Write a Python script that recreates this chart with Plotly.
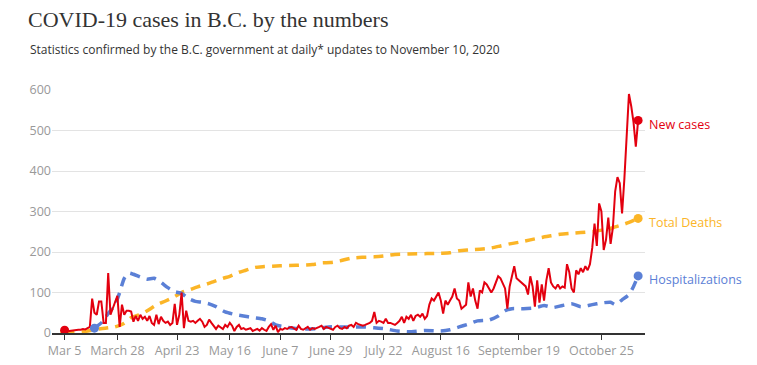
import pandas as pd
import plotly.graph_objects as go

# ---------------- data ----------------
start_date = "2020-03-05"
new_cases = [
    7, 2, 5, 6, 6, 7, 8, 8, 10, 9,
    12, 15, 85, 50, 45, 78, 78, 25, 25, 148,
    45, 60, 72, 92, 15, 70, 45, 55, 55, 53,
    28, 42, 30, 45, 35, 40, 30, 42, 25, 20,
    45, 22, 40, 30, 25, 28, 20, 25, 72, 20,
    45, 100, 12, 55, 30, 28, 30, 25, 30, 35,
    28, 15, 20, 33, 25, 18, 10, 18, 15, 10,
    20, 15, 25, 18, 5, 15, 20, 10, 12, 8,
    10, 12, 5, 8, 10, 6, 12, 8, 5, 15,
    22, 8, 18, 2, 10, 8, 12, 10, 14, 15,
    12, 8, 18, 10, 8, 12, 15, 8, 12, 10,
    12, 15, 18, 10, 15, 12, 10, 8, 15, 18,
    12, 10, 15, 12, 18, 20, 15, 25, 22, 20,
    18, 20, 22, 25, 30, 52, 25, 30, 28, 25,
    35, 25, 25, 22, 20, 25, 30, 40, 25, 40,
    35, 45, 30, 42, 45, 40, 48, 35, 42, 70,
    85, 80, 90, 100, 80, 48, 80, 70, 80, 90,
    110, 85, 80, 60, 65, 70, 125, 90, 110, 80,
    60, 105, 100, 125, 120, 110, 100, 110, 125, 140,
    135, 120, 110, 60, 115, 140, 165, 135, 130, 125,
    120, 115, 95, 140, 115, 65, 130, 75, 120, 80,
    130, 160, 125, 115, 110, 120, 110, 115, 112, 170,
    150, 110, 100, 155, 145, 160, 150, 165, 155, 170,
    210, 270, 215, 320, 300, 205, 230, 285, 220, 260,
    350, 385, 370, 295, 380, 500, 590, 560, 520, 460,
    525,
]
case_dates = pd.date_range(start_date, periods=len(new_cases), freq="D")

death_dates = [
    "2020-03-05", "2020-03-09", "2020-03-13", "2020-03-17", "2020-03-20", "2020-03-24",
    "2020-03-27", "2020-03-31", "2020-04-03", "2020-04-07", "2020-04-10", "2020-04-14",
    "2020-04-18", "2020-04-22", "2020-04-25", "2020-04-29", "2020-05-02", "2020-05-06",
    "2020-05-09", "2020-05-13", "2020-05-16", "2020-05-20", "2020-05-23", "2020-05-27",
    "2020-05-31", "2020-06-07", "2020-06-14", "2020-06-21", "2020-06-25", "2020-06-29",
    "2020-07-03", "2020-07-08", "2020-07-13", "2020-07-18", "2020-07-22", "2020-07-27",
    "2020-08-02", "2020-08-10", "2020-08-16", "2020-08-20", "2020-08-24", "2020-08-28",
    "2020-09-02", "2020-09-07", "2020-09-11", "2020-09-15", "2020-09-19", "2020-09-24",
    "2020-09-29", "2020-10-03", "2020-10-07", "2020-10-11", "2020-10-16", "2020-10-22",
    "2020-10-25", "2020-10-28", "2020-10-31", "2020-11-03", "2020-11-06", "2020-11-10",
]
total_deaths = [
    0, 1, 3, 7, 10, 13,
    15, 24, 38, 46, 55, 69,
    79, 90, 100, 108, 114, 121,
    127, 135, 140, 150, 155, 162,
    164, 166, 167, 169, 173, 174,
    178, 185, 187, 188, 190, 194,
    195, 196, 197, 198, 203, 205,
    207, 210, 215, 220, 224, 230,
    236, 240, 244, 246, 248, 251,
    254, 256, 262, 267, 273, 283,
]

hosp_dates = [
    "2020-03-18", "2020-03-21", "2020-03-24", "2020-03-27", "2020-03-29", "2020-03-31",
    "2020-04-02", "2020-04-04", "2020-04-07", "2020-04-10", "2020-04-13", "2020-04-16",
    "2020-04-19", "2020-04-22", "2020-04-25", "2020-04-28", "2020-05-01", "2020-05-04",
    "2020-05-07", "2020-05-10", "2020-05-14", "2020-05-18", "2020-05-22", "2020-05-26",
    "2020-05-30", "2020-06-02", "2020-06-05", "2020-06-09", "2020-06-13", "2020-06-18",
    "2020-06-23", "2020-06-28", "2020-07-03", "2020-07-08", "2020-07-13", "2020-07-18",
    "2020-07-23", "2020-07-28", "2020-08-02", "2020-08-09", "2020-08-16", "2020-08-20",
    "2020-08-24", "2020-08-28", "2020-09-01", "2020-09-06", "2020-09-10", "2020-09-13",
    "2020-09-16", "2020-09-21", "2020-09-26", "2020-09-30", "2020-10-04", "2020-10-08",
    "2020-10-12", "2020-10-16", "2020-10-21", "2020-10-25", "2020-10-29", "2020-10-31",
    "2020-11-03", "2020-11-06", "2020-11-08", "2020-11-10",
]
hospitalizations = [
    12, 25, 48, 70, 100, 135,
    148, 145, 138, 133, 135, 125,
    112, 102, 98, 85, 78, 76,
    72, 65, 52, 46, 42, 38,
    35, 30, 20, 15, 12, 10,
    11, 15, 15, 15, 15, 13,
    10, 5, 3, 6, 5, 8,
    15, 22, 30, 32, 42, 55,
    60, 60, 62, 68, 63, 68,
    72, 65, 70, 74, 76, 70,
    82, 95, 115, 141,
]

tick_dates = ["2020-03-05", "2020-03-28", "2020-04-23", "2020-05-16", "2020-06-07",
              "2020-06-29", "2020-07-22", "2020-08-16", "2020-09-19", "2020-10-25"]
tick_labels = ["Mar 5", "March 28", "April 23", "May 16", "June 7",
               "June 29", "July 22", "August 16", "September 19", "October 25"]
y_ticks = [0, 100, 200, 300, 400, 500, 600]

title_text = "COVID-19 cases in B.C. by the numbers"
subtitle_text = "Statistics confirmed by the B.C. government at daily* updates to November 10, 2020"

RED = "#e3000f"
ORANGE = "#fbb527"
BLUE = "#5b80d6"

# the page body adds an 8px offset; the figure is sized to fill the rest
W, H = 749, 357

fig = go.Figure()

fig.add_trace(go.Scatter(
    x=death_dates, y=total_deaths, mode="lines", name="Total Deaths",
    line=dict(color=ORANGE, width=3.5, dash="10px,7px", shape="spline", smoothing=0.6),
))
fig.add_trace(go.Scatter(
    x=hosp_dates, y=hospitalizations, mode="lines", name="Hospitalizations",
    line=dict(color=BLUE, width=3.5, dash="10px,7px", shape="spline", smoothing=0.6),
))
fig.add_trace(go.Scatter(
    x=case_dates, y=new_cases, mode="lines", name="New cases",
    line=dict(color=RED, width=2),
))

# endpoint markers
for xs, ys, col in [(death_dates, total_deaths, ORANGE),
                    (hosp_dates, hospitalizations, BLUE),
                    (list(case_dates), new_cases, RED)]:
    fig.add_trace(go.Scatter(
        x=[xs[0], xs[-1]], y=[ys[0], ys[-1]], mode="markers",
        marker=dict(color=col, size=9), showlegend=False, hoverinfo="skip",
    ))

labels = [("New cases", list(case_dates)[-1], new_cases[-1], RED),
          ("Total Deaths", death_dates[-1], total_deaths[-1], ORANGE),
          ("Hospitalizations", hosp_dates[-1], hospitalizations[-1], BLUE)]
for txt, x, y, col in labels:
    fig.add_annotation(x=x, y=y, xref="x", yref="y", text=txt, showarrow=False,
                       xanchor="left", yanchor="middle", xshift=9, yshift=-4,
                       font=dict(family="Open Sans", size=12.5, color=col))

fig.add_annotation(text=subtitle_text, xref="paper", yref="paper",
                   x=-0.0405, y=1.165, xanchor="left", yanchor="middle", showarrow=False,
                   font=dict(family="Open Sans", size=12, color="#333333"))

fig.update_layout(
    width=W, height=H,
    margin=dict(l=44, r=112, t=82, b=32, autoexpand=False),
    paper_bgcolor="white", plot_bgcolor="white",
    showlegend=False,
    title=dict(text=title_text, xref="container", yref="container",
               x=20 / W, y=1 - 11 / H, xanchor="left", yanchor="middle",
               font=dict(family="Liberation Serif", size=22, color="#333333")),
    xaxis=dict(
        type="date", range=["2020-02-28 12:00", "2020-11-13"],
        tickvals=tick_dates, ticktext=tick_labels, automargin=False,
        showgrid=False, showline=True, linecolor="#333333", linewidth=1.5,
        ticks="outside", ticklen=5, tickcolor="#333333",
        tickfont=dict(family="Open Sans", size=12.5, color="#999999"),
        zeroline=False,
    ),
    yaxis=dict(
        range=[0, 600], tickvals=y_ticks, automargin=False,
        showgrid=True, gridcolor="#e3e3e3", gridwidth=1,
        zeroline=False, showline=False, ticks="",
        tickfont=dict(family="Open Sans", size=12.5, color="#999999"),
    ),
)

fig.write_html("out.html")
